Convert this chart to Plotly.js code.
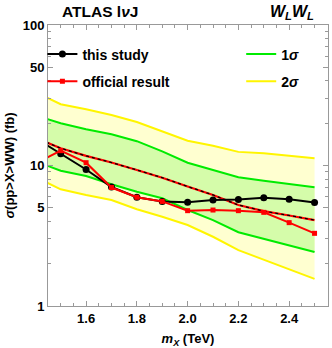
<!DOCTYPE html>
<html>
<head>
<meta charset="utf-8">
<script src="https://cdn.plot.ly/plotly-3.0.1.min.js"></script>
<style>
  html, body { margin: 0; padding: 0; background: #fff; }
  #plot1 { width: 332px; height: 348px; }
</style>
</head>
<body>
<div id="plot1"></div>
<script>
// Resonance mass (TeV)
var mass = [1.4, 1.5, 1.6, 1.7, 1.8, 1.9, 2.0, 2.1, 2.2, 2.3, 2.4, 2.5];

// Observed limits (fb)
var thisStudy = [15.7, 12.1, 9.37, 7.03, 5.94, 5.55, 5.48, 5.68, 5.73, 5.90, 5.75, 5.45];
var official  = [10.3, 12.75, 10.47, 6.97, 5.94, 5.55, 4.77, 4.82, 4.77, 4.64, 3.92, 3.29];

// Expected limit (fb)
var expected = [15.8, 13.26, 11.7, 10.5, 9.29, 8.19, 7.09, 6.17, 5.23, 4.74, 4.41, 4.09];

// Bands (fb)
var green_hi  = [22.8, 19.97, 18.1, 16.7, 14.9, 12.6, 10.47, 9.29, 8.24, 7.80, 7.38, 7.0];
var green_lo  = [10.7, 9.18, 8.42, 7.35, 6.51, 5.84, 4.82, 4.09, 3.35, 3.0, 2.70, 2.42];
var yellow_hi = [33.4, 27.3, 25.1, 22.9, 20.4, 17.6, 15.0, 13.8, 12.5, 12.2, 11.7, 11.25];
var yellow_lo = [8.32, 6.77, 6.17, 5.68, 4.88, 4.32, 3.77, 3.11, 2.50, 2.14, 1.82, 1.56];

var xTicks = [1.6, 1.8, 2.0, 2.2, 2.4];
var yTicks = [1, 5, 10, 50, 100];

var GREEN = 'rgb(0,235,0)', YELLOW = 'rgb(255,245,0)';
var GREEN_FILL = 'rgb(213,252,170)', YELLOW_FILL = 'rgb(255,255,208)';
var FONT = 'Liberation Sans, Arial, sans-serif';

function band(y, color, fill, fillcolor) {
	return {
		x: mass, y: y, mode: 'lines', type: 'scatter',
		line: {color: color, width: 2},
		fill: fill, fillcolor: fillcolor,
		showlegend: false, hoverinfo: 'skip'
	};
}

function drawPlot1() {
	var traces = [
		band(yellow_lo, YELLOW, 'none'),
		band(yellow_hi, YELLOW, 'tonexty', YELLOW_FILL),
		band(green_lo, GREEN, 'none'),
		band(green_hi, GREEN, 'tonexty', GREEN_FILL),
		{x: mass, y: expected, mode: 'lines', type: 'scatter', showlegend: false,
			line: {color: 'red', width: 2.2}},
		{x: mass, y: expected, mode: 'lines', type: 'scatter', showlegend: false,
			line: {color: 'black', width: 1.3, dash: '3px,3px'}},
		{x: mass, y: thisStudy, mode: 'lines+markers', type: 'scatter', name: 'this study',
			legendgroup: 'a', line: {color: 'black', width: 2},
			marker: {symbol: 'circle', size: 7, color: 'black'}},
		{x: mass, y: official, mode: 'lines+markers', type: 'scatter', name: 'official result',
			legendgroup: 'b', line: {color: 'red', width: 2},
			marker: {symbol: 'square', size: 5, color: 'red'}},
		// legend-only entries for the bands
		{x: [null], y: [null], mode: 'lines', type: 'scatter', name: '1<i>σ</i>',
			legend: 'legend2', legendgroup: 'c', line: {color: GREEN, width: 2}},
		{x: [null], y: [null], mode: 'lines', type: 'scatter', name: '2<i>σ</i>',
			legend: 'legend2', legendgroup: 'd', line: {color: YELLOW, width: 2}}
	];

	var axisCommon = {
		showline: true, linecolor: '#999', linewidth: 1, mirror: 'allticks',
		ticks: 'inside', ticklen: 5, tickcolor: '#999', tickwidth: 1,
		showgrid: false, zeroline: false,
		tickfont: {family: FONT, size: 13, color: 'black', weight: 'bold'}
	};

	var legendFont = {family: FONT, size: 14, color: 'black', weight: 'bold'};

	var layout = {
		width: 332, height: 348,
		margin: {l: 48, r: 4, t: 25, b: 42},
		paper_bgcolor: 'white', plot_bgcolor: 'white',
		showlegend: true,
		xaxis: Object.assign({}, axisCommon, {
			range: [1.45, 2.553], tickvals: xTicks, ticktext: xTicks.map(function(v){return v.toFixed(1);}),
			minor: {ticks: 'inside', ticklen: 3, tickcolor: '#999', dtick: 0.05},
			title: {text: '<i>m</i><sub><i>X</i></sub> (TeV)', standoff: 9,
				font: {family: FONT, size: 13, color: 'black', weight: 'bold'}}
		}),
		yaxis: Object.assign({}, axisCommon, {
			type: 'log', range: [0, 2], tickvals: yTicks, ticktext: yTicks.map(String),
			minor: {ticks: 'inside', ticklen: 3, tickcolor: '#999',
				tickvals: [2,3,4,6,7,8,9,20,30,40,60,70,80,90]},
			title: {text: '<i>σ</i>(pp>X>WW) (fb)', standoff: 5,
				font: {family: FONT, size: 13, color: 'black', weight: 'bold'}}
		}),
		legend: {x: -0.02, y: 0.952, xanchor: 'left', yanchor: 'top', bgcolor: 'rgba(0,0,0,0)',
			font: legendFont, tracegroupgap: 6, traceorder: 'grouped'},
		legend2: {x: 0.69, y: 0.952, xanchor: 'left', yanchor: 'top', bgcolor: 'rgba(0,0,0,0)',
			font: legendFont, tracegroupgap: 6, traceorder: 'grouped'},
		annotations: [
			{text: 'ATLAS l<i>ν</i>J', xref: 'paper', yref: 'paper', x: 0.186, y: 1.0,
				xanchor: 'center', yanchor: 'bottom', showarrow: false, yshift: 3,
				font: {family: FONT, size: 15.5, color: 'black', weight: 'bold'}},
			{text: '<i>W<sub>L</sub>W<sub>L</sub></i>', xref: 'paper', yref: 'paper', x: 0.957, y: 1.0,
				xanchor: 'right', yanchor: 'bottom', showarrow: false, yshift: 1,
				font: {family: FONT, size: 16, color: 'black', weight: 'bold'}}
		]
	};

	Plotly.newPlot('plot1', traces, layout, {displayModeBar: false, staticPlot: true});
}

drawPlot1();
</script>
</body>
</html>
